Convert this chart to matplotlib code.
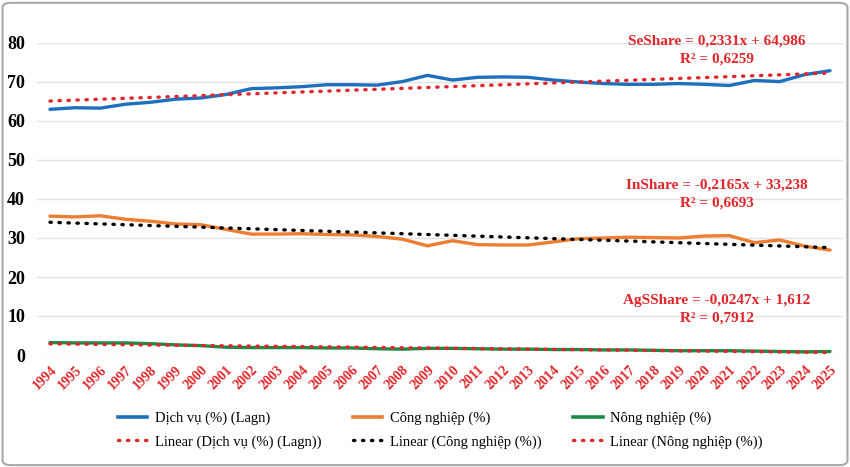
import numpy as np
import matplotlib
matplotlib.use("Agg")
import matplotlib.pyplot as plt
from matplotlib.patches import FancyBboxPatch
from matplotlib.lines import Line2D

# data
years = list(range(1994, 2026))
services = [63.0, 63.4, 63.3, 64.3, 64.8, 65.6, 65.9, 66.8, 68.3, 68.5, 68.8, 69.3,
            69.3, 69.2, 70.1, 71.7, 70.5, 71.2, 71.3, 71.2, 70.5, 70.0, 69.6, 69.4,
            69.4, 69.6, 69.4, 69.1, 70.4, 70.1, 71.9, 72.9]
industry = [35.6, 35.4, 35.7, 34.8, 34.3, 33.6, 33.4, 32.2, 31.0, 31.0, 31.1, 30.9,
            30.8, 30.4, 29.7, 28.0, 29.3, 28.3, 28.2, 28.2, 29.0, 29.8, 30.0, 30.2,
            30.1, 30.0, 30.5, 30.6, 28.8, 29.5, 27.9, 26.9]
agriculture = [3.2, 3.1, 3.1, 3.1, 2.9, 2.6, 2.4, 2.0, 1.9, 1.9, 1.9, 1.8,
               1.8, 1.6, 1.5, 1.7, 1.7, 1.6, 1.5, 1.5, 1.4, 1.4, 1.3, 1.3,
               1.2, 1.1, 1.1, 1.1, 1.0, 0.9, 0.8, 0.9]

eq_labels = [
    ("SeShare = 0,2331x + 64,986", "R² = 0,6259", 80.4),
    ("InShare = -0,2165x + 33,238", "R² = 0,6693", 43.5),
    ("AgSShare = -0,0247x + 1,612", "R² = 0,7912", 14.0),
]

BLUE = "#1F6FBF"
ORANGE = "#ED7D31"
GREEN = "#1E8A45"
RED = "#E0262B"

plt.rcParams['font.family'] = ['Liberation Serif', 'DejaVu Serif']

fig = plt.figure(figsize=(8.5, 4.67), dpi=100)
ax = fig.add_axes([37.4 / 850, 1 - 355 / 467, (842.6 - 37.4) / 850, (355 - 43) / 467])

x = np.arange(len(years))
ax.plot(x, services, color=BLUE, lw=2.4, solid_capstyle='round', zorder=3)
ax.plot(x, industry, color=ORANGE, lw=2.4, solid_capstyle='round', zorder=3)
ax.plot(x, agriculture, color=GREEN, lw=2.4, solid_capstyle='round', zorder=3)

# linear trend lines
dot = (0, (0.4, 2.3))
for series, col in [(services, RED), (industry, "black"), (agriculture, RED)]:
    k, b = np.polyfit(x, series, 1)
    ax.plot(x, k * x + b, color=col, lw=2.4, ls=dot, dash_capstyle='round', zorder=4)

ax.set_xlim(-0.5, len(years) - 0.5)
ax.set_ylim(0, 80)
ax.set_yticks(range(0, 81, 10))
ax.set_xticks(x)
ax.set_xticklabels([str(y) for y in years], rotation=45, ha='right',
                   rotation_mode='anchor', color=RED, fontsize=10,
                   fontweight='bold')
for lab in ax.get_yticklabels():
    lab.set_fontweight('bold')
    lab.set_fontsize(13)
ax.tick_params(axis='both', length=0)
ax.tick_params(axis='x', pad=6)
ax.tick_params(axis='y', pad=9)
ax.grid(axis='y', color='#E2E2E2', lw=1)
ax.set_axisbelow(True)
for s in ax.spines.values():
    s.set_visible(False)

for eq, r2, yv in eq_labels:
    ax.text(26.5, yv, eq, ha='center', va='center', color=RED,
            fontsize=11, fontweight='bold')
    ax.text(26.5, yv - 4.6, r2, ha='center', va='center', color=RED,
            fontsize=11, fontweight='bold')

handles = [
    Line2D([], [], color=BLUE, lw=2.6),
    Line2D([], [], color=RED, lw=2.4, ls=dot, dash_capstyle='round'),
    Line2D([], [], color=ORANGE, lw=2.6),
    Line2D([], [], color="black", lw=2.4, ls=dot, dash_capstyle='round'),
    Line2D([], [], color=GREEN, lw=2.6),
    Line2D([], [], color=RED, lw=2.4, ls=dot, dash_capstyle='round'),
]
labels = ["Dịch vụ (%) (Lagn)", "Linear (Dịch vụ (%) (Lagn))",
          "Công nghiệp (%)", "Linear (Công nghiệp (%))",
          "Nông nghiệp (%)", "Linear (Nông nghiệp (%))"]
fig.legend(handles, labels, ncol=3, loc='center', bbox_to_anchor=(0.518, 1 - 430 / 467),
           frameon=False, fontsize=10.5, handlelength=2.0, handletextpad=0.5,
           columnspacing=2.2, labelspacing=0.7)

border = FancyBboxPatch((0.003, 0.004), 0.994, 0.99, boxstyle="round,pad=0,rounding_size=0.01",
                        transform=fig.transFigure, fill=False, ec='#A8A8A8', lw=1.5)
fig.patches.append(border)

fig.savefig("out.png", dpi=100)
